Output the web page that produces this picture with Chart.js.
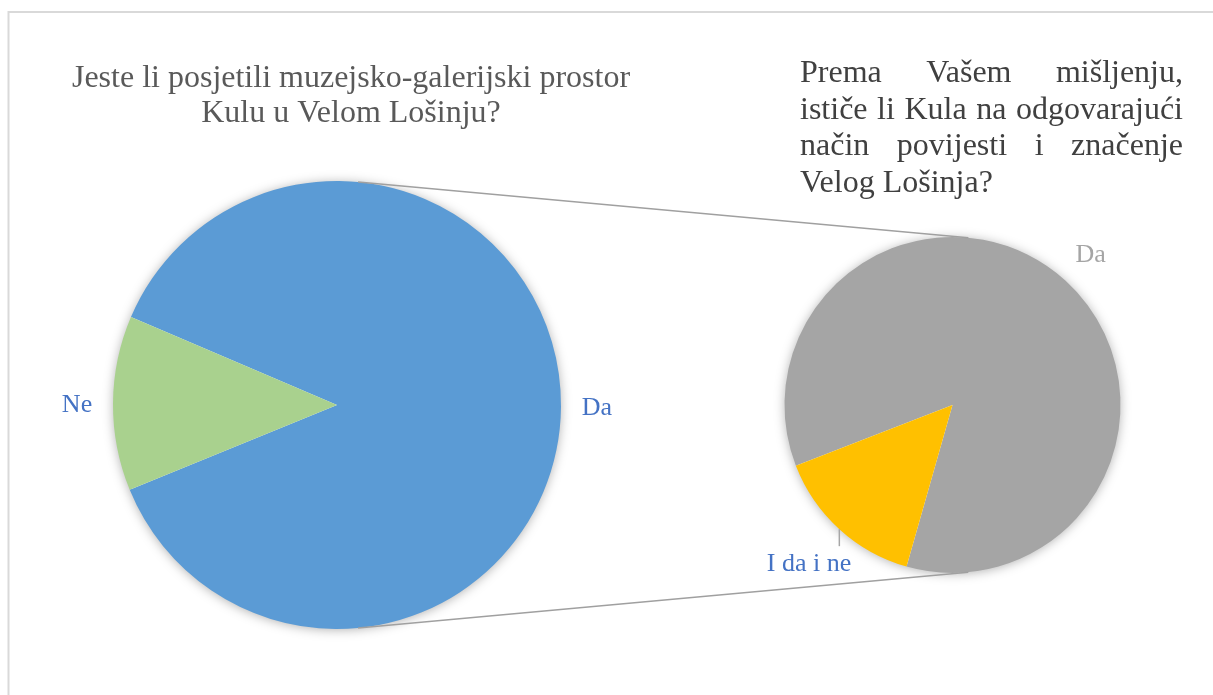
<!DOCTYPE html>
<html>
<head>
<meta charset="utf-8">
<script src="https://cdn.jsdelivr.net/npm/chart.js@4.4.1/dist/chart.umd.min.js"></script>
<style>
  html, body { margin: 0; padding: 0; background: #fff; }
  #wrap { position: relative; width: 1213px; height: 695px; overflow: hidden; }
  #wrap canvas { position: absolute; left: 0; top: 0; }
</style>
</head>
<body>
<div id="wrap">
  <canvas id="mainPie" width="1213" height="695"></canvas>
  <canvas id="subPie" width="1213" height="695"></canvas>
</div>
<script>
// ===== DATA =====
const mainLabels = ['Da', 'Ne'];
const mainValues = [87.4, 12.6];
const mainColors = ['#5B9BD5', '#A9D18E'];
const mainLabelColors = ['#4472C4', '#4472C4'];

const subLabels = ['Da', 'I da i ne'];
const subValues = [85.3, 14.7];
const subColors = ['#A5A5A5', '#FFC000'];
const subLabelColors = ['#A5A5A5', '#4472C4'];

const mainTitle = ['Jeste li posjetili muzejsko-galerijski prostor', 'Kulu u Velom Lošinju?'];
const subTitle = ['Prema Vašem mišljenju,', 'ističe li Kula na odgovarajući', 'način povijesti i značenje', 'Velog Lošinja?'];

const SERIF = "'Liberation Serif', 'Times New Roman', serif";

// ===== HELPERS =====
function pieShadow(chart) {
    const arc = chart.getDatasetMeta(0).data[0];
    if (!arc) return;
    const ctx = chart.ctx;
    ctx.save();
    ctx.shadowColor = 'rgba(0,0,0,0.35)';
    ctx.shadowBlur = 12;
    ctx.shadowOffsetY = 1;
    ctx.beginPath();
    ctx.arc(arc.x, arc.y, arc.outerRadius - 1, 0, Math.PI * 2);
    ctx.fillStyle = '#fff';
    ctx.fill();
    ctx.restore();
}

function sliceLabels(chart, labels, colors, gaps, leader) {
    const ctx = chart.ctx;
    const arcs = chart.getDatasetMeta(0).data;
    ctx.save();
    ctx.font = '26px ' + SERIF;
    ctx.textAlign = 'center';
    ctx.textBaseline = 'alphabetic';
    arcs.forEach((arc, i) => {
        const mid = (arc.startAngle + arc.endAngle) / 2;
        const r = arc.outerRadius + gaps[i];
        const x = arc.x + Math.cos(mid) * r;
        const y = arc.y + Math.sin(mid) * r;
        ctx.fillStyle = colors[i];
        ctx.fillText(labels[i], x, y + 8.5);
        if (leader[i]) {
            const lx = arc.x + Math.cos(mid) * arc.outerRadius;
            const ly = arc.y + Math.sin(mid) * arc.outerRadius;
            ctx.strokeStyle = '#A6A6A6';
            ctx.lineWidth = 1.5;
            ctx.beginPath();
            ctx.moveTo(lx, ly);
            ctx.lineTo(lx, ly + leader[i]);
            ctx.stroke();
        }
    });
    ctx.restore();
}

function justified(ctx, lines, left, right, y0, step) {
    lines.forEach((line, li) => {
        const y = y0 + li * step;
        const words = line.split(' ');
        if (li === lines.length - 1 || words.length < 2) {
            ctx.textAlign = 'left';
            ctx.fillText(line, left, y);
            return;
        }
        let total = 0;
        words.forEach(w => total += ctx.measureText(w).width);
        const gap = (right - left - total) / (words.length - 1);
        let x = left;
        ctx.textAlign = 'left';
        words.forEach(w => {
            ctx.fillText(w, x, y);
            x += ctx.measureText(w).width + gap;
        });
    });
}

// ===== MAIN PIE =====
const mainChart = new Chart(document.getElementById('mainPie'), {
    type: 'pie',
    data: {
        labels: mainLabels,
        datasets: [{
            data: mainValues,
            backgroundColor: mainColors,
            borderWidth: 0
        }]
    },
    options: {
        responsive: false,
        animation: false,
        rotation: 293.1,
        layout: { padding: { left: 113, right: 652, top: 181, bottom: 66 } },
        plugins: { legend: { display: false }, tooltip: { enabled: false } },
        events: []
    },
    plugins: [{
        id: 'mainDecor',
        beforeDraw(chart) {
            const ctx = chart.ctx;
            ctx.save();
            ctx.fillStyle = '#fff';
            ctx.fillRect(0, 0, chart.width, chart.height);
            ctx.strokeStyle = '#D9D9D9';
            ctx.lineWidth = 2;
            ctx.strokeRect(8.5, 12, chart.width + 20, chart.height + 20);

            ctx.font = '32px ' + SERIF;
            ctx.fillStyle = '#595959';
            ctx.textAlign = 'center';
            ctx.textBaseline = 'alphabetic';
            mainTitle.forEach((t, i) => ctx.fillText(t, 351, 86.5 + i * 35.5));

            ctx.fillStyle = '#404040';
            justified(ctx, subTitle, 800, 1183, 82, 36.7);
            ctx.restore();
        },
        beforeDatasetsDraw(chart) { pieShadow(chart); },
        afterDatasetsDraw(chart) {
            sliceLabels(chart, mainLabels, mainLabelColors, [36, 36], [0, 0]);
        }
    }]
});

// ===== SUB PIE =====
const subChart = new Chart(document.getElementById('subPie'), {
    type: 'pie',
    data: {
        labels: subLabels,
        datasets: [{
            data: subValues,
            backgroundColor: subColors,
            borderWidth: 0
        }]
    },
    options: {
        responsive: false,
        animation: false,
        rotation: 248.8,
        layout: { padding: { left: 784.5, right: 92.5, top: 237, bottom: 122 } },
        plugins: { legend: { display: false }, tooltip: { enabled: false } },
        events: []
    },
    plugins: [{
        id: 'subDecor',
        beforeDatasetsDraw(chart) { pieShadow(chart); },
        afterDatasetsDraw(chart) {
            // connector lines between the two pies
            const a = mainChart.getDatasetMeta(0).data[0];
            const b = chart.getDatasetMeta(0).data[0];
            const ctx = chart.ctx;
            const tilt = 5.4 * Math.PI / 180;
            ctx.save();
            ctx.strokeStyle = '#A0A0A0';
            ctx.lineWidth = 1.5;
            [-1, 1].forEach(s => {
                const ang = s < 0 ? -Math.PI / 2 + tilt : Math.PI / 2 - tilt;
                ctx.beginPath();
                ctx.moveTo(a.x + Math.cos(ang) * a.outerRadius, a.y + Math.sin(ang) * a.outerRadius);
                ctx.lineTo(b.x + Math.cos(ang) * b.outerRadius, b.y + Math.sin(ang) * b.outerRadius);
                ctx.stroke();
            });
            ctx.restore();
            sliceLabels(chart, subLabels, subLabelColors, [37, 45], [0, 17]);
        }
    }]
});
</script>
</body>
</html>
